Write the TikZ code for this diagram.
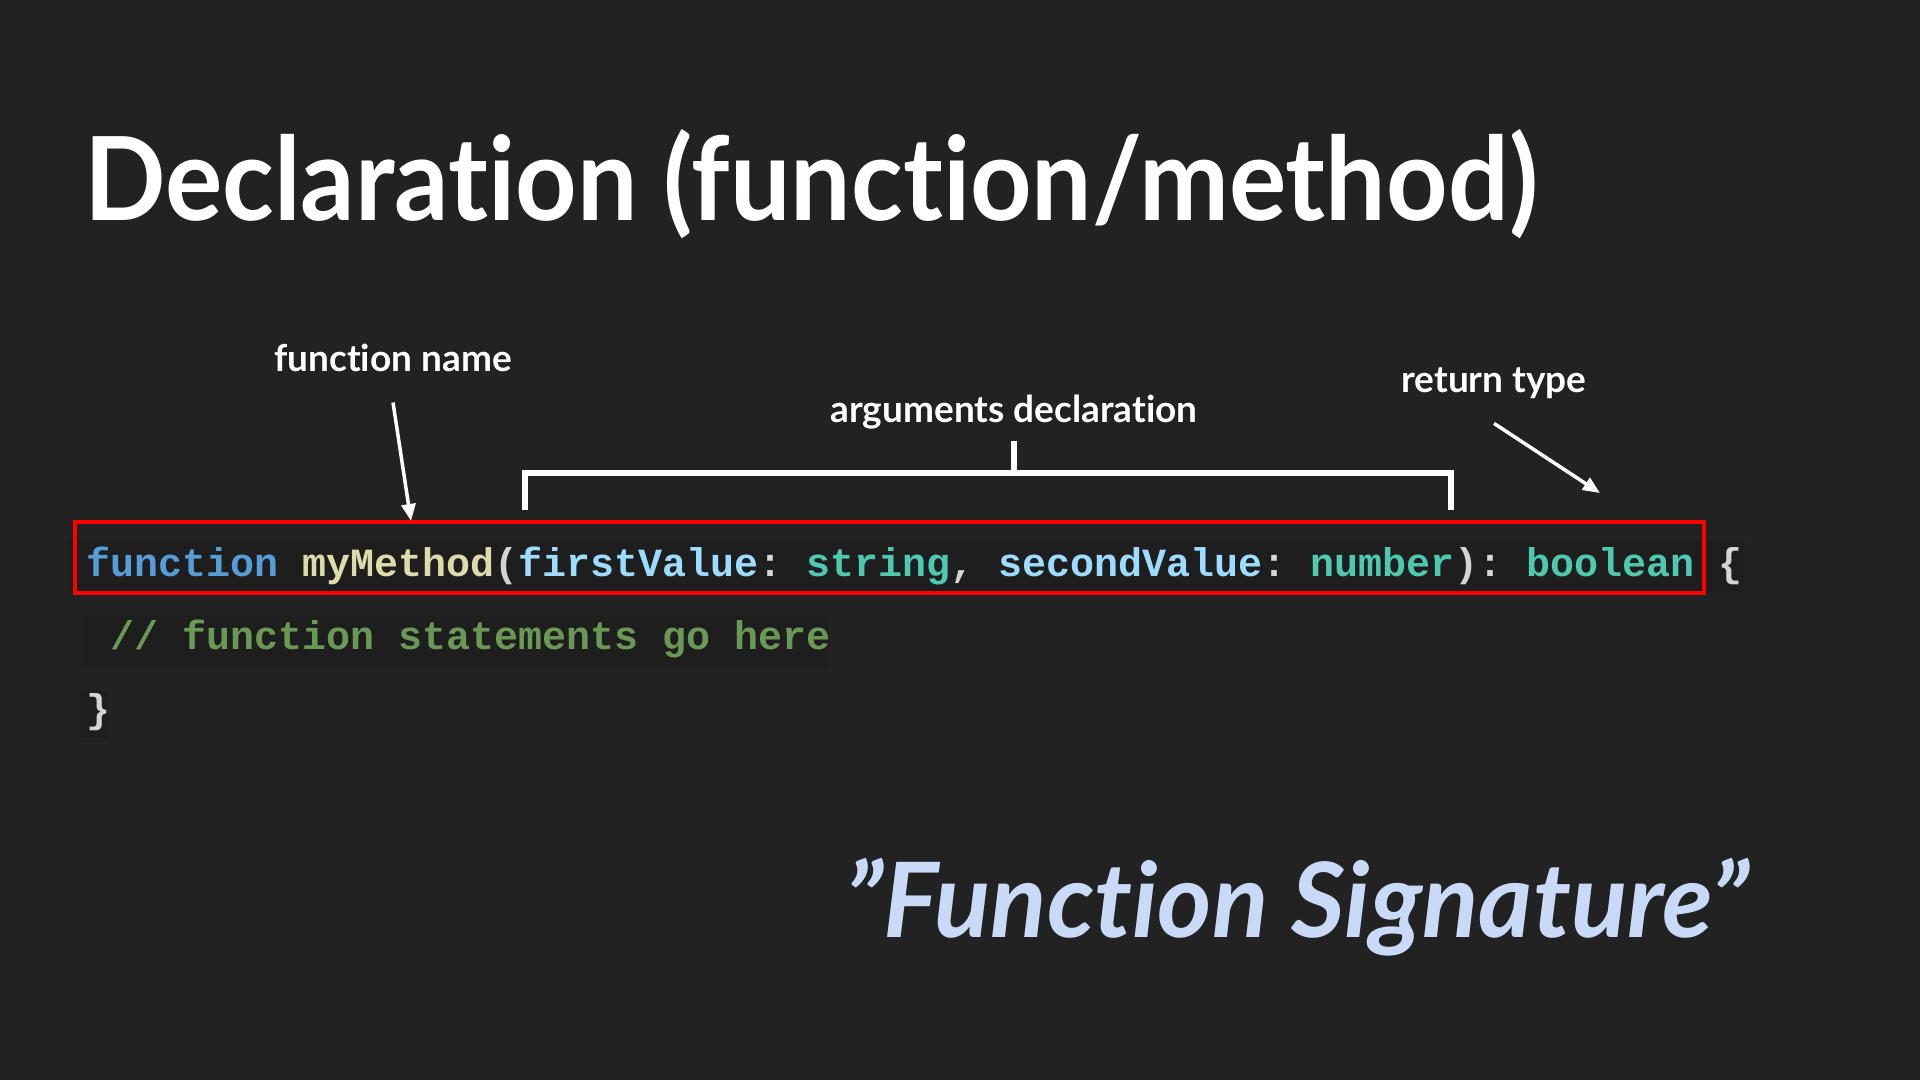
\documentclass[tikz,border=0pt]{standalone}
\usepackage{fontspec}
\setmainfont{Lato}[Ligatures={NoCommon}]
\newfontfamily\codefont{Liberation Mono}
\usetikzlibrary{arrows.meta,positioning,calc}

\definecolor{slidebg}{HTML}{222222}
\definecolor{lineband}{HTML}{1E1E1E}
\definecolor{kwblue}{HTML}{569CD6}
\definecolor{fnyellow}{HTML}{DCDCAA}
\definecolor{paramblue}{HTML}{9CDCFE}
\definecolor{typeteal}{HTML}{4EC9B0}
\definecolor{punctgray}{HTML}{D4D4D4}
\definecolor{commentgreen}{HTML}{6A9955}
\definecolor{scriptblue}{HTML}{C9DAF8}

\begin{document}
\begin{tikzpicture}[x=1pt, y=-1pt,
  label/.style={text=white, font=\fontsize{37}{40}\selectfont\bfseries, inner sep=0pt, anchor=base},
  code/.style={font=\fontsize{40}{48}\selectfont\codefont\bfseries\frenchspacing, inner sep=0pt, anchor=base west},
  pointer/.style={white, line width=3.5pt, -{Triangle[length=17pt, width=14pt]}},
  bracket/.style={white, line width=6pt},
  sigbox/.style={draw=red, line width=4pt}
]

% ================= BACKGROUND =================
\fill[slidebg] (0,0) rectangle (1920,1080);
\useasboundingbox (0,0) rectangle (1920,1080);

% Title
\node[text=white, font=\fontsize{116}{130}\selectfont\bfseries, inner sep=0pt, anchor=base west]
  (title) at (84,220) {\scalebox{0.925}[1]{Declaration (function/method)}};

% ================= CODE =================
\fill[lineband] (68,540) rectangle (1745,592);
\fill[lineband] (83,616) rectangle (828,668);
\fill[lineband] (80,690) rectangle (108,738);

\node[code] (sigline) at (86,576) {%
  \textcolor{kwblue}{function} \textcolor{fnyellow}{myMethod}\textcolor{punctgray}{(}%
  \textcolor{paramblue}{firstValue}\textcolor{punctgray}{:} \textcolor{typeteal}{string}\textcolor{punctgray}{,} %
  \textcolor{paramblue}{secondValue}\textcolor{punctgray}{:} \textcolor{typeteal}{number}\textcolor{punctgray}{):} %
  \textcolor{typeteal}{boolean} \textcolor{punctgray}{\{}};
\node[code, text=commentgreen] (comment) at (110,649) {// function statements go here};
\node[code, text=punctgray] (closebrace) at (86,722) {\}};

% Signature box
\draw[sigbox] (75,522) rectangle (1704,593);

% ================= LABELS =================
\node[label] (fnname) at (393,371) {function name};
\node[label] (argsdecl) at (1014,422) {arguments declaration};
\node[label] (rettype) at (1494,392) {return type};

\coordinate (fntip) at (411,521);
\coordinate (rettip) at (1600,493);
\coordinate (stem) at (1014,473);

% Arrows
\draw[pointer] ([yshift=-31pt]fnname.south) -- (fntip);
\draw[pointer] ([yshift=-25pt]rettype.south) -- (rettip);

% Bracket over the arguments
\draw[bracket] ([yshift=-12pt]argsdecl.south) -- (stem);
\draw[bracket] (525,510) -- (525,473) -- (1451,473) -- (1451,510);

% ================= SCRIPT TEXT =================
\node[text=scriptblue, font=\fontsize{104}{120}\selectfont\bfseries\itshape, inner sep=0pt, anchor=base west]
  (signature) at (845,937) {\char34 Function Signature\char34};

\end{tikzpicture}
\end{document}
